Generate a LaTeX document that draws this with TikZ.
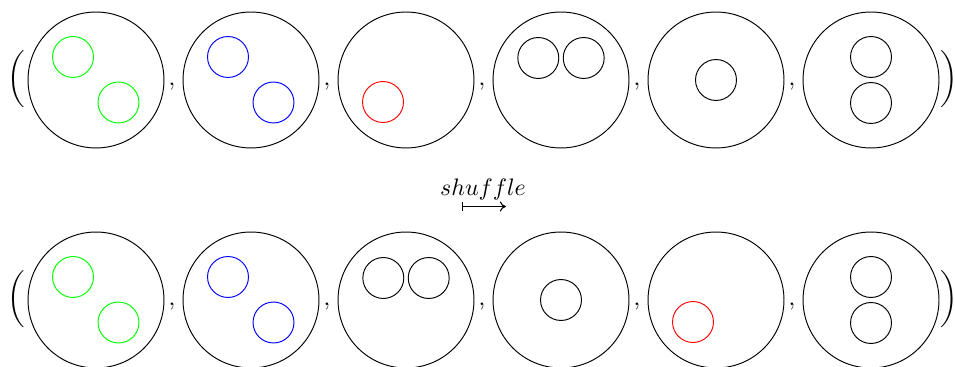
\documentclass[tikz,border=0pt]{standalone}
\usepackage{amsmath}
\usepackage{amssymb}
\usepackage{tikz}
\usetikzlibrary{calc, arrows.meta, positioning}

\begin{document}
\begin{tikzpicture}[
    x=0.42pt, y=-0.42pt,
    node distance=7.6pt,
    ring/.style={
        circle, draw=black, minimum size=57.1pt, inner sep=0pt
    },
    cell/.style={
        circle, draw=black, minimum size=17.2pt, inner sep=0pt
    },
    greencell/.style={cell, draw=green},
    bluecell/.style={cell, draw=blue},
    redcell/.style={cell, draw=red},
    sep/.style={anchor=base, inner sep=0pt},
    paren/.style={inner sep=0pt},
    maparr/.style={{Bar[width=3.8pt]}-{To[length=2.6pt, width=4.2pt]}, line width=0.45pt}
]
\useasboundingbox (0,0) rectangle (955,367);

% Top row
\node[ring] (t1) at (96,80) {};
\node[ring, right=of t1] (t2) {};
\node[ring, right=of t2] (t3) {};
\node[ring, right=of t3] (t4) {};
\node[ring, right=of t4] (t5) {};
\node[ring, right=of t5] (t6) {};

\node[greencell] (t1a) at ($(t1)+(-23,-23)$) {};
\node[greencell] (t1b) at ($(t1)+(22.5,22.5)$) {};
\node[bluecell]  (t2a) at ($(t2)+(-23,-23)$) {};
\node[bluecell]  (t2b) at ($(t2)+(22.5,22.5)$) {};
\node[redcell]   (t3a) at ($(t3)+(-23,22)$) {};
\node[cell]      (t4a) at ($(t4)+(-22.7,-22)$) {};
\node[cell]      (t4b) at ($(t4)+(22.7,-22)$) {};
\node[cell]      (t5a) at (t5) {};
\node[cell]      (t6a) at ($(t6)+(0,-23)$) {};
\node[cell]      (t6b) at ($(t6)+(0,23)$) {};

% Bottom row
\node[ring] (b1) at (96,300) {};
\node[ring, right=of b1] (b2) {};
\node[ring, right=of b2] (b3) {};
\node[ring, right=of b3] (b4) {};
\node[ring, right=of b4] (b5) {};
\node[ring, right=of b5] (b6) {};

\node[greencell] (b1a) at ($(b1)+(-23,-23)$) {};
\node[greencell] (b1b) at ($(b1)+(22.5,22.5)$) {};
\node[bluecell]  (b2a) at ($(b2)+(-23,-23)$) {};
\node[bluecell]  (b2b) at ($(b2)+(22.5,22.5)$) {};
\node[cell]      (b3a) at ($(b3)+(-22.7,-22)$) {};
\node[cell]      (b3b) at ($(b3)+(22.7,-22)$) {};
\node[cell]      (b4a) at (b4) {};
\node[redcell]   (b5a) at ($(b5)+(-23,22)$) {};
\node[cell]      (b6a) at ($(b6)+(0,-23)$) {};
\node[cell]      (b6b) at ($(b6)+(0,23)$) {};

% Commas
\node[sep] (tk1) at ($(t1.east)!0.5!(t2.west)+(-1.5,5.5)$) {$,$};
\node[sep] (tk2) at ($(t2.east)!0.5!(t3.west)+(-1.5,5.5)$) {$,$};
\node[sep] (tk3) at ($(t3.east)!0.5!(t4.west)+(-1.5,5.5)$) {$,$};
\node[sep] (tk4) at ($(t4.east)!0.5!(t5.west)+(-1.5,5.5)$) {$,$};
\node[sep] (tk5) at ($(t5.east)!0.5!(t6.west)+(-1.5,5.5)$) {$,$};
\node[sep] (bk1) at ($(b1.east)!0.5!(b2.west)+(-1.5,5.5)$) {$,$};
\node[sep] (bk2) at ($(b2.east)!0.5!(b3.west)+(-1.5,5.5)$) {$,$};
\node[sep] (bk3) at ($(b3.east)!0.5!(b4.west)+(-1.5,5.5)$) {$,$};
\node[sep] (bk4) at ($(b4.east)!0.5!(b5.west)+(-1.5,5.5)$) {$,$};
\node[sep] (bk5) at ($(b5.east)!0.5!(b6.west)+(-1.5,5.5)$) {$,$};

% Brackets
\node[paren] (tl) at (16,79) {$\bigg($};
\node[paren] (tr) at (949,79) {$\bigg)$};
\node[paren] (bl) at (16,299) {$\bigg($};
\node[paren] (br) at (949,299) {$\bigg)$};

% Map
\node[sep] (lbl) at (483,196) {$shuffle$};
\coordinate (m1) at (462,206.5);
\coordinate (m2) at (506,206.5);
\draw[maparr] (m1) -- (m2);

\end{tikzpicture}
\end{document}
